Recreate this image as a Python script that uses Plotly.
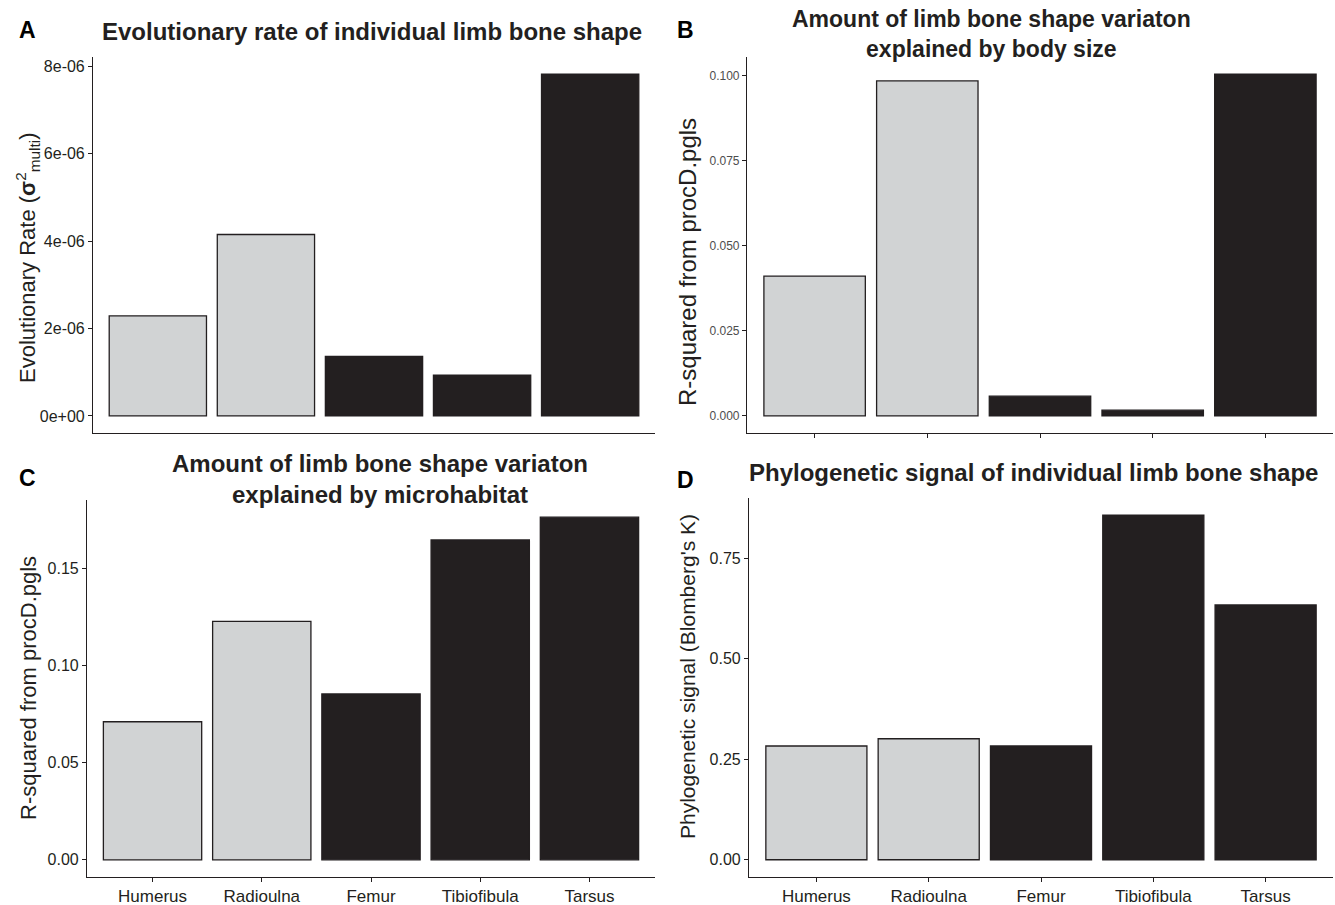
import plotly.graph_objects as go

bones = ["Humerus", "Radioulna", "Femur", "Tibiofibula", "Tarsus"]
bar_colors = ["#D1D3D4", "#D1D3D4", "#231F20", "#231F20", "#231F20"]

rate_vals = [2.29e-06, 4.15e-06, 1.36e-06, 0.93e-06, 7.82e-06]
size_r2 = [0.0411, 0.0985, 0.0058, 0.0017, 0.1005]
habitat_r2 = [0.0710, 0.1226, 0.0853, 0.1645, 0.1762]
phylo_k = [0.283, 0.301, 0.283, 0.857, 0.634]

rate_ticks = [0, 2e-06, 4e-06, 6e-06, 8e-06]
rate_ticktext = ["0e+00", "2e-06", "4e-06", "6e-06", "8e-06"]
size_ticks = [0, 0.025, 0.05, 0.075, 0.1]
size_ticktext = ["0.000", "0.025", "0.050", "0.075", "0.100"]
habitat_ticks = [0, 0.05, 0.1, 0.15]
habitat_ticktext = ["0.00", "0.05", "0.10", "0.15"]
phylo_ticks = [0, 0.25, 0.5, 0.75]
phylo_ticktext = ["0.00", "0.25", "0.50", "0.75"]

titles = [
    "Evolutionary rate of individual limb bone shape",
    "Amount of limb bone shape variaton<br>explained by body size",
    "Amount of limb bone shape variaton<br>explained by microhabitat",
    "Phylogenetic signal of individual limb bone shape",
]
ytitles = [
    "Evolutionary Rate (<b>σ</b><sup>2</sup><sub>multi</sub>)",
    "R-squared from procD.pgls",
    "R-squared from procD.pgls",
    "Phylogenetic signal (Blomberg's K)",
]
letters = ["A", "B", "C", "D"]

W, H = 1335, 905
FONT = "Liberation Sans, Arial, Helvetica, sans-serif"
INK = "#231F20"

def px(x):
    return x / W

def py(y):
    return 1 - y / H

# panel geometry (pixels): x0, x1, ytop, ybottom
panels = [
    (93, 655, 57, 433),
    (747, 1333, 57, 433),
    (87, 655, 500, 877),
    (749, 1333, 498, 877),
]
datasets = [rate_vals, size_r2, habitat_r2, phylo_k]
ticksets = [(rate_ticks, rate_ticktext), (size_ticks, size_ticktext),
            (habitat_ticks, habitat_ticktext), (phylo_ticks, phylo_ticktext)]
ytick_sizes = [16, 12, 16, 16]
ytick_colors = [INK, "#4D4D4D", INK, INK]

fig = go.Figure()
layout = dict(
    width=W, height=H, margin=dict(l=0, r=0, t=0, b=0),
    plot_bgcolor="white", paper_bgcolor="white",
    showlegend=False, bargap=0.1,
    font=dict(family=FONT, color=INK),
)
annotations = []

for i in range(4):
    sfx = "" if i == 0 else str(i + 1)
    fig.add_trace(go.Bar(
        x=bones, y=datasets[i],
        marker=dict(color=bar_colors, line=dict(color=INK, width=1.3)),
        xaxis="x" + sfx, yaxis="y" + sfx, width=0.9,
    ))
    x0, x1, yt, yb = panels[i]
    vmax = max(datasets[i])
    tv, tt = ticksets[i]
    show_xlabels = i >= 2
    show_xticks = i != 0
    layout["xaxis" + sfx] = dict(
        domain=[px(x0), px(x1)], anchor="y" + sfx,
        range=[-0.6, 4.6], type="category",
        showline=True, linecolor=INK, linewidth=1.1,
        ticks="outside" if show_xticks else "", ticklen=4, tickcolor=INK, tickwidth=1.1,
        showticklabels=show_xlabels,
        tickfont=dict(size=17, color=INK, family=FONT),
        showgrid=False, zeroline=False, fixedrange=True,
    )
    layout["yaxis" + sfx] = dict(
        domain=[py(yb), py(yt)], anchor="x" + sfx,
        range=[-0.05 * vmax, 1.05 * vmax],
        showline=True, linecolor=INK, linewidth=1.1,
        ticks="outside", ticklen=4, tickcolor=INK, tickwidth=1.1,
        tickvals=tv, ticktext=tt,
        tickfont=dict(size=ytick_sizes[i], color=ytick_colors[i], family=FONT),
        showgrid=False, zeroline=False, fixedrange=True,
    )

# titles
title_pos = [(372, 31), (992, 34), (380, 479), (1033, 473)]
title_sizes = [24, 23, 24, 24]
for i, (tx, ty) in enumerate(title_pos):
    annotations.append(dict(
        text="<b>" + titles[i] + "</b>", x=px(tx), y=py(ty),
        xref="paper", yref="paper", xanchor="center", yanchor="middle",
        showarrow=False, font=dict(size=title_sizes[i], color=INK, family=FONT),
    ))

letter_pos = [(27, 30), (685, 30), (27, 478), (685, 480)]
for i, (lx, ly) in enumerate(letter_pos):
    annotations.append(dict(
        text="<b>" + letters[i] + "</b>", x=px(lx), y=py(ly),
        xref="paper", yref="paper", xanchor="center", yanchor="middle",
        showarrow=False, font=dict(size=23, color="black", family=FONT),
    ))

ytitle_pos = [(27, 258), (687, 262), (28, 688), (687, 676)]
ytitle_sizes = [22, 24, 22, 21]
for i, (ax, ay) in enumerate(ytitle_pos):
    annotations.append(dict(
        text=ytitles[i], x=px(ax), y=py(ay),
        xref="paper", yref="paper", xanchor="center", yanchor="middle",
        textangle=-90, showarrow=False,
        font=dict(size=ytitle_sizes[i], color=INK, family=FONT),
    ))

layout["annotations"] = annotations
fig.update_layout(**layout)
fig.write_html(
    "out.html",
    config={"displayModeBar": False},
    post_script="document.body.style.margin='0px';document.body.style.padding='0px';",
)
